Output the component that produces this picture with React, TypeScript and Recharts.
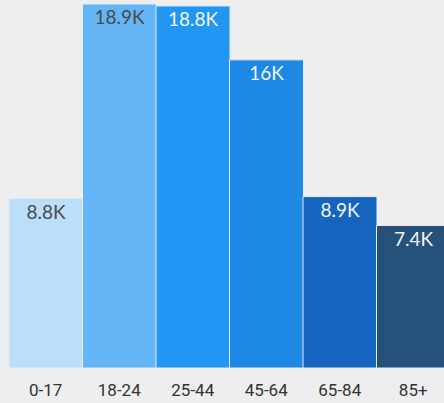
import { Bar, BarChart, Cell, LabelList, XAxis, YAxis } from "recharts";

const ageGroups = ["0-17", "18-24", "25-44", "45-64", "65-84", "85+"];
const population = [8.8, 18.9, 18.8, 16, 8.9, 7.4];
const valueLabels = ["8.8K", "18.9K", "18.8K", "16K", "8.9K", "7.4K"];
const barColors = ["#bbdefb", "#64b5f6", "#2196f3", "#1e88e5", "#1565c0", "#25517a"];
const labelColors = ["#4a4a4a", "#4a4a4a", "#f2f6fb", "#f2f6fb", "#f2f6fb", "#f2f6fb"];

const rows = ageGroups.map((group, i) => ({
  group,
  value: population[i],
  label: valueLabels[i],
}));

// label drawn inside the top of each bar; colour depends on the bar shade
function ValueLabel(props: any) {
  const { x, y, width, index } = props;
  return (
    <text
      x={x + width / 2}
      y={y + 5}
      textAnchor="middle"
      dominantBaseline="hanging"
      fontFamily="Lato"
      fontSize={19}
      fill={labelColors[index]}
    >
      {valueLabels[index]}
    </text>
  );
}

export default function App() {
  return (
    <div
      style={{
        position: "fixed",
        left: 0,
        top: 0,
        width: 444,
        height: 403,
        overflow: "hidden",
        background: "#eeeeee",
      }}
    >
      <BarChart
        width={450}
        height={403}
        data={rows}
        margin={{ top: 4, right: 0, left: 9, bottom: 5 }}
        barCategoryGap={0}
      >
        <XAxis
          dataKey="group"
          axisLine={false}
          tickLine={false}
          height={30}
          tickMargin={10}
          interval={0}
          tick={{ fontSize: 17, fill: "#333", fontFamily: "Roboto" }}
        />
        <YAxis hide domain={[0, 18.9]} />
        <Bar
          dataKey="value"
          stroke="#e3ecf5"
          strokeWidth={1}
          isAnimationActive={false}
        >
          {rows.map((r, i) => (
            <Cell key={r.group} fill={barColors[i]} />
          ))}
          <LabelList dataKey="label" content={ValueLabel} />
        </Bar>
      </BarChart>
    </div>
  );
}
